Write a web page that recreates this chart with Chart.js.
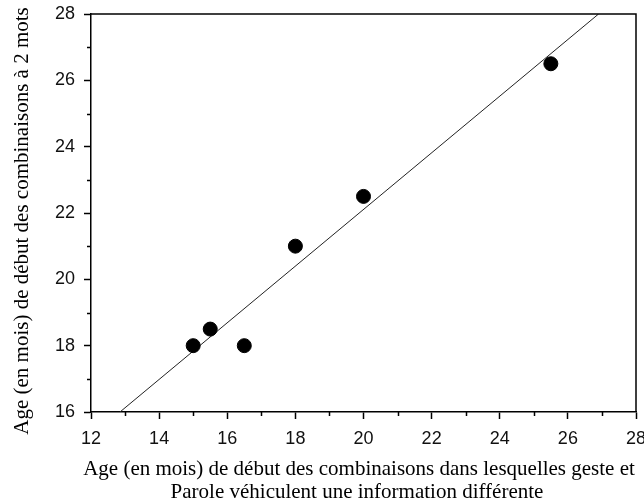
<!DOCTYPE html>
<html>
<head>
<meta charset="utf-8">
<script src="https://cdn.jsdelivr.net/npm/chart.js@4.4.1/dist/chart.umd.min.js"></script>
<style>
  html, body { margin: 0; padding: 0; background: #fff; }
  canvas { display: block; }
</style>
</head>
<body>
<canvas id="c" width="644" height="502"></canvas>
<script>
// ---- data ----
const pointX = [15, 15.5, 16.5, 18, 20, 25.5];
const pointY = [18, 18.5, 18, 21, 22.5, 26.5];
const fitX = [12.85, 26.9];
const fitY = [16, 28];
const xMajorTicks = [12, 14, 16, 18, 20, 22, 24, 26, 28];
const xMinorTicks = [13, 15, 17, 19, 21, 23, 25, 27];
const yMajorTicks = [16, 18, 20, 22, 24, 26, 28];
const yMinorTicks = [17, 19, 21, 23, 25, 27];
const xTitleLines = [
  "Age (en mois) de début des combinaisons dans lesquelles geste et",
  "Parole véhiculent une information différente"
];
const yTitle = "Age (en mois) de début des combinaisons à 2 mots";

const scatterData = pointX.map((x, i) => ({ x: x, y: pointY[i] }));
const fitData = fitX.map((x, i) => ({ x: x, y: fitY[i] }));

const tickFont = { family: '"Liberation Sans", Arial, sans-serif', size: 18 };
const serifFont = '21px "Liberation Serif", "Times New Roman", serif';
const AXIS_W = 1.5;

function allTicks(major, minor) {
  return major.concat(minor).sort((a, b) => a - b).map(v => ({ value: v }));
}

const framePlugin = {
  id: 'frame',
  afterDraw(chart) {
    const ctx = chart.ctx;
    const a = chart.chartArea;
    const xs = chart.scales.x, ys = chart.scales.y;
    ctx.save();
    ctx.strokeStyle = '#000';
    ctx.lineWidth = AXIS_W;
    // top and right frame
    ctx.beginPath();
    ctx.moveTo(a.left, a.top);
    ctx.lineTo(a.right, a.top);
    ctx.lineTo(a.right, a.bottom);
    ctx.stroke();
    // minor ticks
    ctx.lineWidth = 1.5;
    ctx.beginPath();
    xMinorTicks.forEach(v => {
      const px = Math.round(xs.getPixelForValue(v)) + 0.5;
      ctx.moveTo(px, a.bottom);
      ctx.lineTo(px, a.bottom + 4);
    });
    yMinorTicks.forEach(v => {
      const py = Math.round(ys.getPixelForValue(v)) + 0.5;
      ctx.moveTo(a.left, py);
      ctx.lineTo(a.left - 4, py);
    });
    ctx.stroke();
    // axis titles
    ctx.fillStyle = '#000';
    ctx.font = serifFont;
    ctx.textAlign = 'center';
    ctx.textBaseline = 'alphabetic';
    ctx.fillText(xTitleLines[0], 359, 475);
    ctx.fillText(xTitleLines[1], 357, 498);
    ctx.translate(28, 221);
    ctx.rotate(-Math.PI / 2);
    ctx.fillText(yTitle, 0, 0);
    ctx.restore();
  }
};

new Chart(document.getElementById('c'), {
  type: 'scatter',
  data: {
    datasets: [
      {
        type: 'line',
        data: fitData,
        borderColor: '#222',
        borderWidth: 1,
        pointRadius: 0,
        fill: false,
        order: 2
      },
      {
        type: 'scatter',
        data: scatterData,
        backgroundColor: '#000',
        borderColor: '#000',
        pointRadius: 7,
        pointHoverRadius: 7,
        order: 1
      }
    ]
  },
  options: {
    responsive: false,
    animation: false,
    devicePixelRatio: 1,
    layout: { padding: { top: 14, right: 8, left: 0, bottom: 0 } },
    plugins: { legend: { display: false }, tooltip: { enabled: false } },
    scales: {
      x: {
        type: 'linear',
        min: 12, max: 28,
        afterBuildTicks(s) { s.ticks = allTicks(xMajorTicks, xMinorTicks); },
        afterFit(s) { s.height = 90; s.paddingLeft = 0; s.paddingRight = 0; },
        ticks: {
          autoSkip: false,
          maxRotation: 0,
          padding: 9,
          color: '#111',
          font: tickFont,
          callback: v => xMajorTicks.includes(v) ? String(v) : ''
        },
        grid: {
          drawOnChartArea: false,
          drawTicks: true,
          tickLength: 7,
          tickWidth: 1.5,
          tickColor: c => (c.tick && xMajorTicks.includes(c.tick.value)) ? '#000' : 'rgba(0,0,0,0)'
        },
        border: { display: true, color: '#000', width: AXIS_W }
      },
      y: {
        type: 'linear',
        min: 16, max: 28,
        afterBuildTicks(s) { s.ticks = allTicks(yMajorTicks, yMinorTicks); },
        afterFit(s) { s.width = 91; s.paddingTop = 0; s.paddingBottom = 0; },
        ticks: {
          autoSkip: false,
          padding: 9,
          color: '#111',
          font: tickFont,
          callback: v => yMajorTicks.includes(v) ? String(v) : ''
        },
        grid: {
          drawOnChartArea: false,
          drawTicks: true,
          tickLength: 7,
          tickWidth: 1.5,
          tickColor: c => (c.tick && yMajorTicks.includes(c.tick.value)) ? '#000' : 'rgba(0,0,0,0)'
        },
        border: { display: true, color: '#000', width: AXIS_W }
      }
    }
  },
  plugins: [framePlugin]
});
</script>
</body>
</html>
